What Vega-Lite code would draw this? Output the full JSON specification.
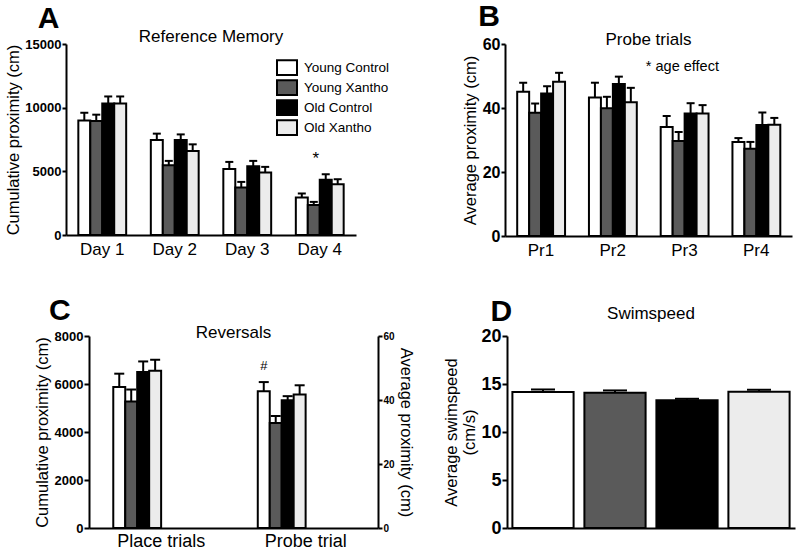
{
  "$schema": "https://vega.github.io/schema/vega-lite/v6.json",
  "background": "white",
  "padding": {"left": 5, "top": 2, "right": 5, "bottom": 5},
  "config": {
    "font": "Liberation Sans",
    "view": {"stroke": null},
    "axis": {"domainColor": "black", "domainWidth": 2, "tickColor": "black", "tickWidth": 2, "grid": false, "labelColor": "black", "titleColor": "black", "labelFont": "Liberation Sans", "titleFont": "Liberation Sans", "titleFontWeight": "normal", "labelFontWeight": "bold"},
    "title": {"color": "black", "font": "Liberation Sans", "fontWeight": "normal"},
    "legend": {"labelFont": "Liberation Sans", "labelColor": "black"}
  },
  "datasets": {
    "A": [
      {"day": "Day 1", "group": "Young Control", "mean": 9000, "upper": 9600},
      {"day": "Day 1", "group": "Young Xantho", "mean": 8950, "upper": 9450},
      {"day": "Day 1", "group": "Old Control", "mean": 10330, "upper": 10880},
      {"day": "Day 1", "group": "Old Xantho", "mean": 10330, "upper": 10880},
      {"day": "Day 2", "group": "Young Control", "mean": 7460, "upper": 7960},
      {"day": "Day 2", "group": "Young Xantho", "mean": 5480, "upper": 5820},
      {"day": "Day 2", "group": "Old Control", "mean": 7460, "upper": 7900},
      {"day": "Day 2", "group": "Old Xantho", "mean": 6600, "upper": 7120},
      {"day": "Day 3", "group": "Young Control", "mean": 5190, "upper": 5740},
      {"day": "Day 3", "group": "Young Xantho", "mean": 3730, "upper": 4170},
      {"day": "Day 3", "group": "Old Control", "mean": 5400, "upper": 5820},
      {"day": "Day 3", "group": "Old Xantho", "mean": 4900, "upper": 5350},
      {"day": "Day 4", "group": "Young Control", "mean": 2950, "upper": 3260},
      {"day": "Day 4", "group": "Young Xantho", "mean": 2350, "upper": 2600},
      {"day": "Day 4", "group": "Old Control", "mean": 4330, "upper": 4770},
      {"day": "Day 4", "group": "Old Xantho", "mean": 3990, "upper": 4380}
    ],
    "B": [
      {"trial": "Pr1", "group": "Young Control", "mean": 45.05, "upper": 47.9},
      {"trial": "Pr1", "group": "Young Xantho", "mean": 38.5, "upper": 41.4},
      {"trial": "Pr1", "group": "Old Control", "mean": 44.5, "upper": 46.8},
      {"trial": "Pr1", "group": "Old Xantho", "mean": 48.2, "upper": 51.0},
      {"trial": "Pr2", "group": "Young Control", "mean": 43.3, "upper": 47.9},
      {"trial": "Pr2", "group": "Young Xantho", "mean": 39.9, "upper": 43.5},
      {"trial": "Pr2", "group": "Old Control", "mean": 47.5, "upper": 49.8},
      {"trial": "Pr2", "group": "Old Xantho", "mean": 41.8, "upper": 46.3},
      {"trial": "Pr3", "group": "Young Control", "mean": 34.1, "upper": 37.5},
      {"trial": "Pr3", "group": "Young Xantho", "mean": 29.7, "upper": 32.5},
      {"trial": "Pr3", "group": "Old Control", "mean": 38.3, "upper": 41.5},
      {"trial": "Pr3", "group": "Old Xantho", "mean": 38.3, "upper": 40.9},
      {"trial": "Pr4", "group": "Young Control", "mean": 29.4, "upper": 30.6},
      {"trial": "Pr4", "group": "Young Xantho", "mean": 27.3, "upper": 29.4},
      {"trial": "Pr4", "group": "Old Control", "mean": 34.7, "upper": 38.6},
      {"trial": "Pr4", "group": "Old Xantho", "mean": 34.8, "upper": 36.9}
    ],
    "Cplace": [
      {"cond": "Place trials", "group": "Young Control", "mean": 5880, "upper": 6430},
      {"cond": "Place trials", "group": "Young Xantho", "mean": 5270, "upper": 5770},
      {"cond": "Place trials", "group": "Old Control", "mean": 6500, "upper": 6940},
      {"cond": "Place trials", "group": "Old Xantho", "mean": 6550, "upper": 7010}
    ],
    "Cprobe": [
      {"cond": "Probe trial", "group": "Young Control", "mean": 42.7, "upper": 45.6},
      {"cond": "Probe trial", "group": "Young Xantho", "mean": 32.8, "upper": 35.0},
      {"cond": "Probe trial", "group": "Old Control", "mean": 39.9, "upper": 41.2},
      {"cond": "Probe trial", "group": "Old Xantho", "mean": 41.75, "upper": 44.6}
    ],
    "D": [
      {"group": "Young Control", "mean": 14.16, "upper": 14.43},
      {"group": "Young Xantho", "mean": 14.09, "upper": 14.33},
      {"group": "Old Control", "mean": 13.32, "upper": 13.46},
      {"group": "Old Xantho", "mean": 14.19, "upper": 14.4}
    ]
  },
  "resolve": {"scale": {"fill": "independent"}, "legend": {"fill": "independent"}},
  "columns": 1,
  "align": "none",
  "spacing": 38,
  "concat": [
    {
      "resolve": {"scale": {"fill": "independent"}, "legend": {"fill": "independent"}},
      "spacing": 72,
      "hconcat": [
        {
          "title": {"text": "A", "fontSize": 30, "fontWeight": "bold", "anchor": "start", "frame": "bounds", "offset": -6, "dx": 32},
          "resolve": {"scale": {"fill": "independent"}, "legend": {"fill": "independent"}},
          "vconcat": [
            {
              "title": {"text": "Reference Memory", "fontSize": 17, "anchor": "middle", "frame": "group", "offset": -8},
              "width": 290, "height": 191,
              "data": {"name": "A"},
              "layer": [
                {
                  "mark": {"type": "bar", "stroke": "black", "strokeWidth": 2},
                  "encoding": {
                    "x": {"field": "day", "type": "nominal", "scale": {"domain": ["Day 1", "Day 2", "Day 3", "Day 4"], "paddingInner": 0.34, "paddingOuter": 0.17}, "axis": {"title": null, "labelAngle": 0, "labelFontSize": 17, "labelFontWeight": "normal", "ticks": false, "labelPadding": 6}},
                    "xOffset": {"field": "group", "type": "nominal", "scale": {"domain": ["Young Control", "Young Xantho", "Old Control", "Old Xantho"]}},
                    "y": {"field": "mean", "type": "quantitative", "scale": {"domain": [0, 15000], "nice": false}, "axis": {"title": "Cumulative proximity (cm)", "titleFontSize": 16.5, "values": [0, 5000, 10000, 15000], "format": "d", "labelFontSize": 13, "tickSize": 4, "labelPadding": 1, "titlePadding": 3}},
                    "fill": {"field": "group", "type": "nominal", "scale": {"domain": ["Young Control", "Young Xantho", "Old Control", "Old Xantho"], "range": ["#ffffff", "#5a5a5a", "#000000", "#ececec"]}, "legend": {"orient": "none", "legendX": 210, "legendY": 14, "title": null, "symbolType": "M-1,-0.74L1,-0.74L1,0.74L-1,0.74Z", "symbolSize": 400, "symbolStrokeColor": "black", "symbolStrokeWidth": 2, "labelFontSize": 13.5, "labelOffset": 6, "rowPadding": 0, "clipHeight": 19.2}}
                  }
                },
                {
                  "mark": {"type": "rule", "strokeWidth": 2, "color": "black"},
                  "encoding": {
                    "x": {"field": "day", "type": "nominal"},
                    "xOffset": {"field": "group", "type": "nominal"},
                    "y": {"field": "mean", "type": "quantitative"},
                    "y2": {"field": "upper"}
                  }
                },
                {
                  "mark": {"type": "tick", "thickness": 2, "size": 8, "color": "black", "opacity": 1},
                  "encoding": {
                    "x": {"field": "day", "type": "nominal"},
                    "xOffset": {"field": "group", "type": "nominal"},
                    "y": {"field": "upper", "type": "quantitative"}
                  }
                },
                {
                  "data": {"values": [{"day": "Day 4", "y": 6000, "label": "*"}]},
                  "mark": {"type": "text", "fontSize": 17, "color": "black", "dx": -4},
                  "encoding": {
                    "x": {"field": "day", "type": "nominal"},
                    "y": {"field": "y", "type": "quantitative"},
                    "text": {"field": "label"}
                  }
                }
              ]
            }
          ]
        },
        {
          "title": {"text": "B", "fontSize": 30, "fontWeight": "bold", "anchor": "start", "frame": "bounds", "offset": -1, "dx": 16},
          "resolve": {"scale": {"fill": "independent"}, "legend": {"fill": "independent"}},
          "vconcat": [
            {
              "title": {"text": "Probe trials", "fontSize": 17, "anchor": "middle", "frame": "group", "offset": -13},
              "width": 287, "height": 192,
              "data": {"name": "B"},
              "layer": [
                {
                  "mark": {"type": "bar", "stroke": "black", "strokeWidth": 2},
                  "encoding": {
                    "x": {"field": "trial", "type": "nominal", "scale": {"domain": ["Pr1", "Pr2", "Pr3", "Pr4"], "paddingInner": 0.34, "paddingOuter": 0.17}, "axis": {"title": null, "labelAngle": 0, "labelFontSize": 17, "labelFontWeight": "normal", "ticks": false, "labelPadding": 6}},
                    "xOffset": {"field": "group", "type": "nominal", "scale": {"domain": ["Young Control", "Young Xantho", "Old Control", "Old Xantho"]}},
                    "y": {"field": "mean", "type": "quantitative", "scale": {"domain": [0, 60], "nice": false}, "axis": {"title": "Average proximity (cm)", "titleFontSize": 16.5, "values": [0, 20, 40, 60], "labelFontSize": 16, "tickSize": 4, "labelPadding": 1, "titlePadding": 4}},
                    "fill": {"field": "group", "type": "nominal", "scale": {"domain": ["Young Control", "Young Xantho", "Old Control", "Old Xantho"], "range": ["#ffffff", "#5a5a5a", "#000000", "#ececec"]}, "legend": null}
                  }
                },
                {
                  "mark": {"type": "rule", "strokeWidth": 2, "color": "black"},
                  "encoding": {
                    "x": {"field": "trial", "type": "nominal"},
                    "xOffset": {"field": "group", "type": "nominal"},
                    "y": {"field": "mean", "type": "quantitative"},
                    "y2": {"field": "upper"}
                  }
                },
                {
                  "mark": {"type": "tick", "thickness": 2, "size": 8, "color": "black", "opacity": 1},
                  "encoding": {
                    "x": {"field": "trial", "type": "nominal"},
                    "xOffset": {"field": "group", "type": "nominal"},
                    "y": {"field": "upper", "type": "quantitative"}
                  }
                },
                {
                  "data": {"values": [{"trial": "Pr3", "y": 52.8, "label": "* age effect"}]},
                  "mark": {"type": "text", "fontSize": 14.5, "color": "black", "dx": -2},
                  "encoding": {
                    "x": {"field": "trial", "type": "nominal"},
                    "y": {"field": "y", "type": "quantitative"},
                    "text": {"field": "label"}
                  }
                }
              ]
            }
          ]
        }
      ]
    },
    {
      "resolve": {"scale": {"fill": "independent"}, "legend": {"fill": "independent"}},
      "spacing": 0,
      "bounds": "flush",
      "hconcat": [
        {"width": 23, "height": 10, "data": {"values": [{}]}, "mark": {"type": "point", "opacity": 0}, "encoding": {}},
        {
          "resolve": {"scale": {"fill": "independent"}, "legend": {"fill": "independent"}},
          "spacing": 29,
          "hconcat": [
            {
              "title": {"text": "C", "fontSize": 30, "fontWeight": "bold", "anchor": "start", "frame": "bounds", "offset": -2, "dx": 15},
              "resolve": {"scale": {"fill": "independent"}, "legend": {"fill": "independent"}},
              "vconcat": [
                {
                  "title": {"text": "Reversals", "fontSize": 17, "anchor": "middle", "frame": "group", "offset": -12},
                  "width": 289, "height": 192,
                  "resolve": {"scale": {"y": "independent"}},
                  "layer": [
                    {
                      "data": {"name": "Cplace"},
                      "layer": [
                        {
                          "mark": {"type": "bar", "stroke": "black", "strokeWidth": 2},
                          "encoding": {
                            "x": {"field": "cond", "type": "nominal", "scale": {"domain": ["Place trials", "Probe trial"], "paddingInner": 0.336, "paddingOuter": 0.168}, "axis": {"title": null, "labelAngle": 0, "labelFontSize": 18, "labelFontWeight": "normal", "ticks": false, "labelPadding": 4}},
                            "xOffset": {"field": "group", "type": "nominal", "scale": {"domain": ["Young Control", "Young Xantho", "Old Control", "Old Xantho"]}},
                            "y": {"field": "mean", "type": "quantitative", "scale": {"domain": [0, 8000], "nice": false}, "axis": {"title": "Cumulative proximity (cm)", "titleFontSize": 16.5, "values": [0, 2000, 4000, 6000, 8000], "format": "d", "labelFontSize": 13, "tickSize": 5, "labelPadding": 1, "titlePadding": 4}},
                            "fill": {"field": "group", "type": "nominal", "scale": {"domain": ["Young Control", "Young Xantho", "Old Control", "Old Xantho"], "range": ["#ffffff", "#5a5a5a", "#000000", "#ececec"]}, "legend": null}
                          }
                        },
                        {
                          "mark": {"type": "rule", "strokeWidth": 2, "color": "black"},
                          "encoding": {
                            "x": {"field": "cond", "type": "nominal"},
                            "xOffset": {"field": "group", "type": "nominal"},
                            "y": {"field": "mean", "type": "quantitative"},
                            "y2": {"field": "upper"}
                          }
                        },
                        {
                          "mark": {"type": "tick", "thickness": 2, "size": 10, "color": "black", "opacity": 1},
                          "encoding": {
                            "x": {"field": "cond", "type": "nominal"},
                            "xOffset": {"field": "group", "type": "nominal"},
                            "y": {"field": "upper", "type": "quantitative"}
                          }
                        }
                      ]
                    },
                    {
                      "data": {"name": "Cprobe"},
                      "layer": [
                        {
                          "mark": {"type": "bar", "stroke": "black", "strokeWidth": 2},
                          "encoding": {
                            "x": {"field": "cond", "type": "nominal"},
                            "xOffset": {"field": "group", "type": "nominal", "scale": {"domain": ["Young Control", "Young Xantho", "Old Control", "Old Xantho"]}},
                            "y": {"field": "mean", "type": "quantitative", "scale": {"domain": [0, 60], "nice": false}, "axis": {"orient": "right", "title": "Average proximity (cm)", "titleFontSize": 16.5, "values": [0, 20, 40, 60], "labelFontSize": 10, "tickSize": 4, "labelPadding": 1, "titlePadding": 3}},
                            "fill": {"field": "group", "type": "nominal", "scale": {"domain": ["Young Control", "Young Xantho", "Old Control", "Old Xantho"], "range": ["#ffffff", "#5a5a5a", "#000000", "#ececec"]}, "legend": null}
                          }
                        },
                        {
                          "mark": {"type": "rule", "strokeWidth": 2, "color": "black"},
                          "encoding": {
                            "x": {"field": "cond", "type": "nominal"},
                            "xOffset": {"field": "group", "type": "nominal"},
                            "y": {"field": "mean", "type": "quantitative"},
                            "y2": {"field": "upper"}
                          }
                        },
                        {
                          "mark": {"type": "tick", "thickness": 2, "size": 10, "color": "black", "opacity": 1},
                          "encoding": {
                            "x": {"field": "cond", "type": "nominal"},
                            "xOffset": {"field": "group", "type": "nominal"},
                            "y": {"field": "upper", "type": "quantitative"}
                          }
                        },
                        {
                          "data": {"values": [{"cond": "Probe trial", "group": "Young Control", "y": 50.5, "label": "#"}]},
                          "mark": {"type": "text", "fontSize": 13, "color": "black"},
                          "encoding": {
                            "x": {"field": "cond", "type": "nominal"},
                            "xOffset": {"field": "group", "type": "nominal"},
                            "y": {"field": "y", "type": "quantitative"},
                            "text": {"field": "label"}
                          }
                        }
                      ]
                    }
                  ]
                }
              ]
            },
            {
              "title": {"text": "D", "fontSize": 30, "fontWeight": "bold", "anchor": "start", "frame": "bounds", "offset": -22, "dx": 47},
              "resolve": {"scale": {"fill": "independent"}, "legend": {"fill": "independent"}},
              "vconcat": [
                {
                  "title": {"text": "Swimspeed", "fontSize": 17, "anchor": "middle", "frame": "group", "offset": 4},
                  "width": 288, "height": 192,
                  "data": {"name": "D"},
                  "layer": [
                    {
                      "mark": {"type": "bar", "stroke": "black", "strokeWidth": 2},
                      "encoding": {
                        "x": {"field": "group", "type": "nominal", "scale": {"domain": ["Young Control", "Young Xantho", "Old Control", "Old Xantho"], "paddingInner": 0.15, "paddingOuter": 0.075}, "axis": {"title": null, "labels": false, "ticks": false}},
                        "y": {"field": "mean", "type": "quantitative", "scale": {"domain": [0, 20], "nice": false}, "axis": {"title": ["Average swimspeed", "(cm/s)"], "titleFontSize": 16.5, "values": [0, 5, 10, 15, 20], "labelFontSize": 18, "tickSize": 5, "labelPadding": 1, "titlePadding": 3}},
                        "fill": {"field": "group", "type": "nominal", "scale": {"domain": ["Young Control", "Young Xantho", "Old Control", "Old Xantho"], "range": ["#ffffff", "#5a5a5a", "#000000", "#ececec"]}, "legend": null}
                      }
                    },
                    {
                      "mark": {"type": "rule", "strokeWidth": 2, "color": "black"},
                      "encoding": {
                        "x": {"field": "group", "type": "nominal"},
                        "y": {"field": "mean", "type": "quantitative"},
                        "y2": {"field": "upper"}
                      }
                    },
                    {
                      "mark": {"type": "tick", "thickness": 2, "size": 24, "color": "black", "opacity": 1},
                      "encoding": {
                        "x": {"field": "group", "type": "nominal"},
                        "y": {"field": "upper", "type": "quantitative"}
                      }
                    }
                  ]
                }
              ]
            }
          ]
        }
      ]
    }
  ]
}
